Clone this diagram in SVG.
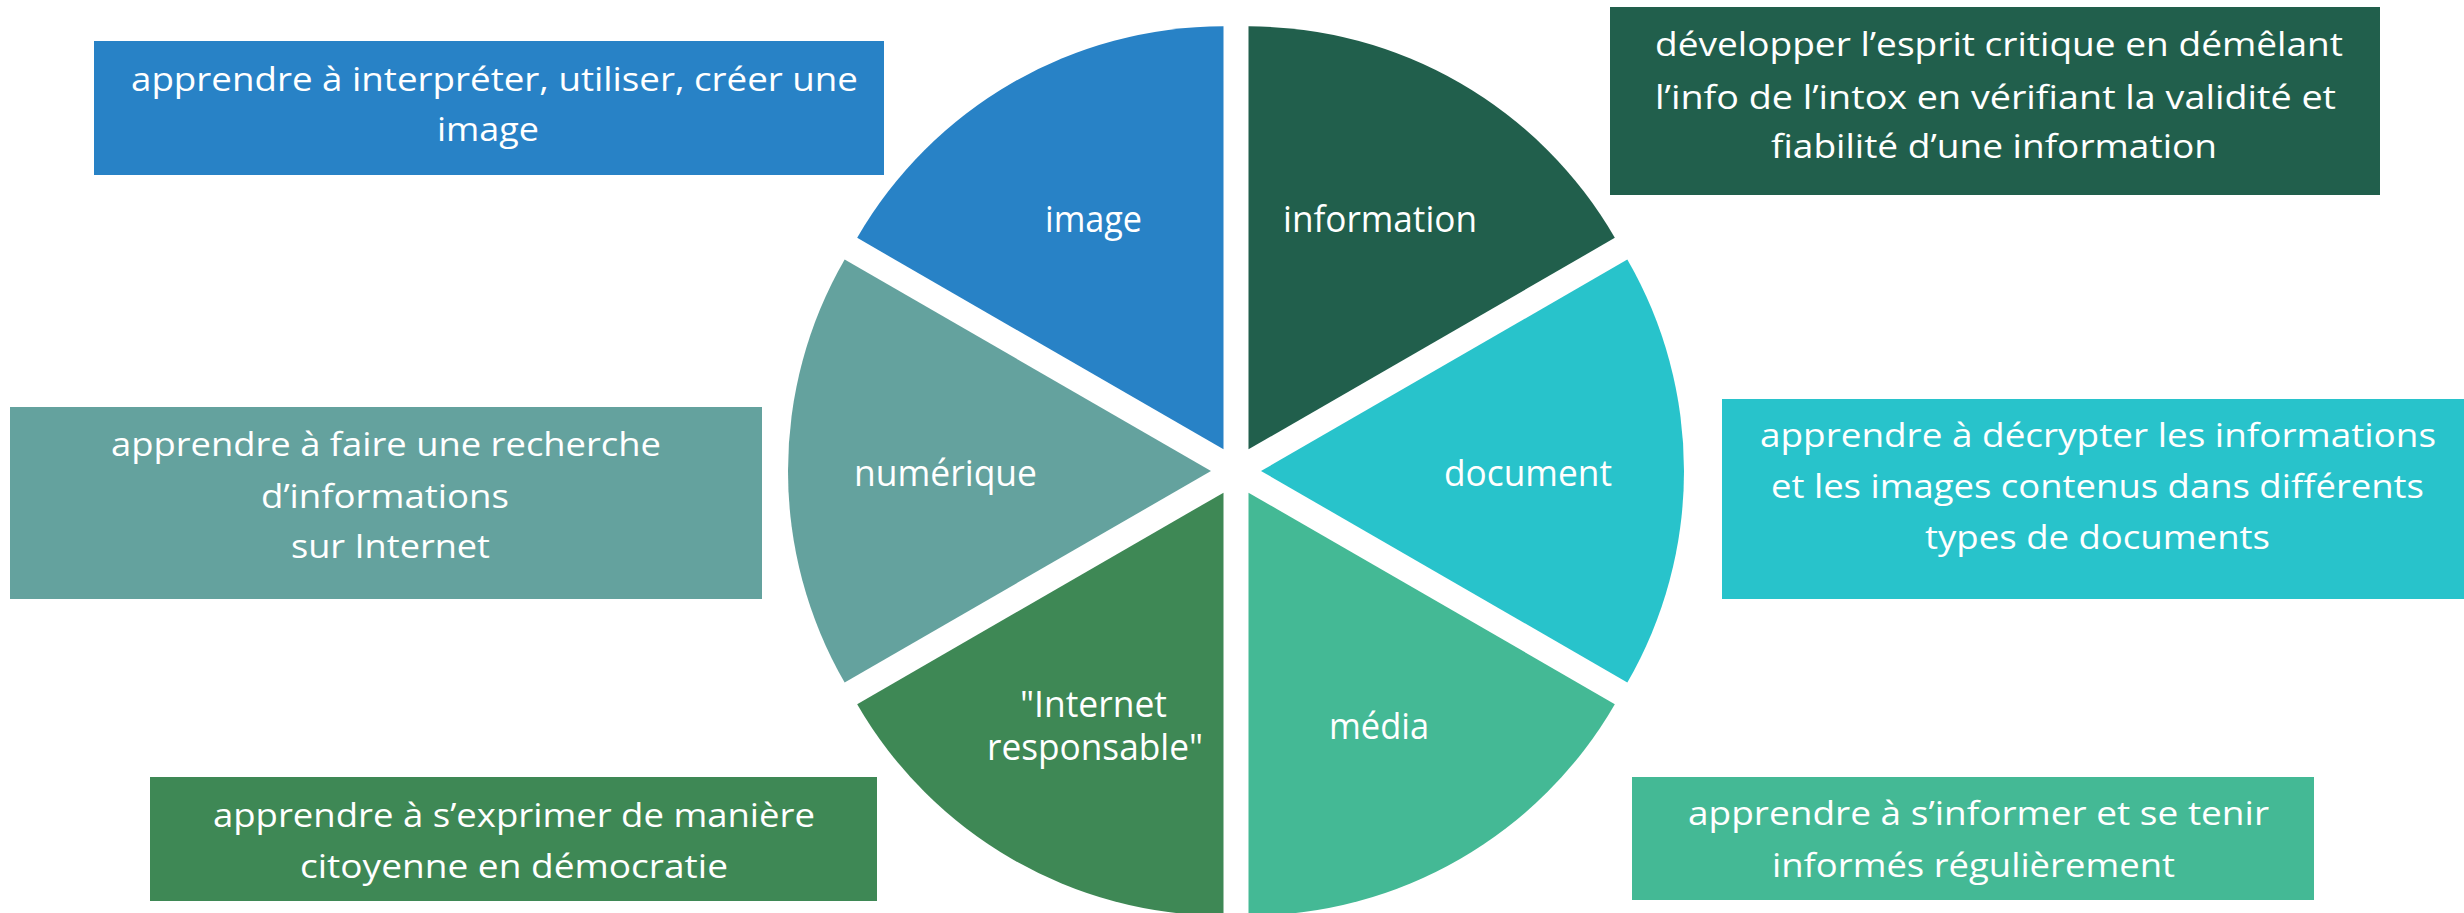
<svg xmlns="http://www.w3.org/2000/svg" width="2464" height="913" viewBox="0 0 2464 913">
<style>
text{font-family:"Open Sans","Noto Sans","Liberation Sans",sans-serif;fill:#ffffff;}
.bx{font-size:33px;}
.lb{font-size:37px;}
.c-image{fill:#2882C6;}
.c-info{fill:#215F4C;}
.c-doc{fill:#28C3CB;}
.c-media{fill:#44B995;}
.c-inet{fill:#3E8855;}
.c-num{fill:#64A29E;}
</style>
<rect width="2464" height="913" fill="#ffffff"/>
<g id="connectors"/>
<g id="slice-information">
<path class="c-info" d="M1248.5,449.35 L1248.5,26.35 A423,423 0 0 1 1614.83,237.85 Z"/>
<text class="lb" x="1283" y="232" textLength="194" lengthAdjust="spacingAndGlyphs">information</text>
</g>
<g id="slice-document">
<path class="c-doc" d="M1261,471 L1627.33,259.5 A423,423 0 0 1 1627.33,682.5 Z"/>
<text class="lb" x="1444" y="486" textLength="168" lengthAdjust="spacingAndGlyphs">document</text>
</g>
<g id="slice-media">
<path class="c-media" d="M1248.5,492.65 L1614.83,704.15 A423,423 0 0 1 1248.5,915.65 Z"/>
<text class="lb" x="1329" y="739" textLength="100" lengthAdjust="spacingAndGlyphs">média</text>
</g>
<g id="slice-internet">
<path class="c-inet" d="M1223.5,492.65 L1223.5,915.65 A423,423 0 0 1 857.17,704.15 Z"/>
<text class="lb" x="1020" y="717" textLength="147" lengthAdjust="spacingAndGlyphs">"Internet</text>
<text class="lb" x="987" y="760" textLength="216" lengthAdjust="spacingAndGlyphs">responsable"</text>
</g>
<g id="slice-numerique">
<path class="c-num" d="M1211,471 L844.67,682.5 A423,423 0 0 1 844.67,259.5 Z"/>
<text class="lb" x="854" y="486" textLength="183" lengthAdjust="spacingAndGlyphs">numérique</text>
</g>
<g id="slice-image">
<path class="c-image" d="M1223.5,449.35 L857.17,237.85 A423,423 0 0 1 1223.5,26.35 Z"/>
<text class="lb" x="1045" y="232" textLength="97" lengthAdjust="spacingAndGlyphs">image</text>
</g>
<g id="box-image">
<rect class="c-image" x="94" y="41" width="790" height="134"/>
<text class="bx" x="131" y="91" textLength="727" lengthAdjust="spacingAndGlyphs">apprendre à interpréter,  utiliser, créer une</text>
<text class="bx" x="437" y="141" textLength="102" lengthAdjust="spacingAndGlyphs">image</text>
</g>
<g id="box-numerique">
<rect class="c-num" x="10" y="407" width="752" height="192"/>
<text class="bx" x="111" y="456" textLength="550" lengthAdjust="spacingAndGlyphs">apprendre à faire une recherche</text>
<text class="bx" x="261" y="508" textLength="248" lengthAdjust="spacingAndGlyphs">d’informations</text>
<text class="bx" x="291" y="558" textLength="199" lengthAdjust="spacingAndGlyphs">sur Internet</text>
</g>
<g id="box-internet">
<rect class="c-inet" x="150" y="777" width="727" height="124"/>
<text class="bx" x="213" y="827" textLength="602" lengthAdjust="spacingAndGlyphs">apprendre à s’exprimer  de manière</text>
<text class="bx" x="300" y="878" textLength="428" lengthAdjust="spacingAndGlyphs">citoyenne en démocratie</text>
</g>
<g id="box-information">
<rect class="c-info" x="1610" y="7" width="770" height="188"/>
<text class="bx" x="1655" y="56" textLength="688" lengthAdjust="spacingAndGlyphs">développer  l’esprit  critique  en démêlant</text>
<text class="bx" x="1655" y="109" textLength="681" lengthAdjust="spacingAndGlyphs">l’info de l’intox en vérifiant  la validité et</text>
<text class="bx" x="1771" y="158" textLength="446" lengthAdjust="spacingAndGlyphs">fiabilité d’une information</text>
</g>
<g id="box-document">
<rect class="c-doc" x="1722" y="399" width="742" height="200"/>
<text class="bx" x="1760" y="447" textLength="676" lengthAdjust="spacingAndGlyphs">apprendre  à décrypter  les informations</text>
<text class="bx" x="1771" y="498" textLength="653" lengthAdjust="spacingAndGlyphs">et les images contenus dans différents</text>
<text class="bx" x="1925" y="549" textLength="345" lengthAdjust="spacingAndGlyphs">types de documents</text>
</g>
<g id="box-media">
<rect class="c-media" x="1632" y="777" width="682" height="123"/>
<text class="bx" x="1688" y="825" textLength="581" lengthAdjust="spacingAndGlyphs">apprendre  à s’informer  et se tenir</text>
<text class="bx" x="1772" y="877" textLength="403" lengthAdjust="spacingAndGlyphs">informés  régulièrement</text>
</g>
</svg>
